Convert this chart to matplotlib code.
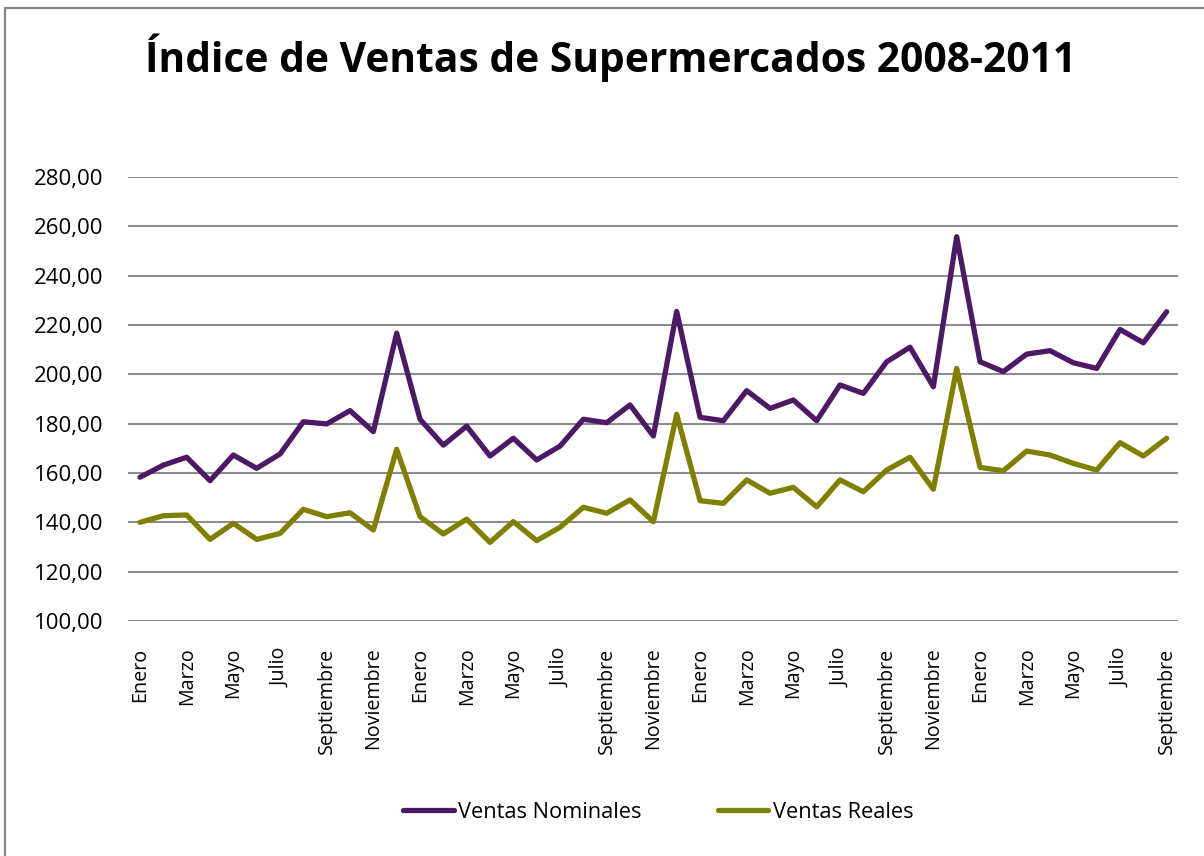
import matplotlib.pyplot as plt
from matplotlib.patches import Rectangle

plt.rcParams['font.family'] = ['Open Sans', 'DejaVu Sans']

meses = ["Enero", "Febrero", "Marzo", "Abril", "Mayo", "Junio", "Julio",
         "Agosto", "Septiembre", "Octubre", "Noviembre", "Diciembre"]
# enero 2008 .. septiembre 2011
etiquetas = (meses * 4)[:45]

nominales = [158.3, 163.2, 166.4, 156.9, 167.3, 161.9, 167.7, 180.8, 179.9, 185.3, 176.8, 216.7,
             181.8, 171.3, 179.0, 166.9, 174.1, 165.3, 170.9, 181.8, 180.4, 187.6, 175.0, 225.5,
             182.6, 181.2, 193.4, 186.2, 189.6, 181.2, 195.7, 192.3, 205.1, 211.0, 195.0, 255.8,
             205.1, 201.1, 208.2, 209.6, 204.7, 202.4, 218.2, 212.8, 225.4]
reales = [140.0, 142.7, 143.0, 133.1, 139.6, 133.1, 135.5, 145.3, 142.3, 143.9, 136.9, 169.6,
          142.3, 135.3, 141.3, 131.9, 140.3, 132.6, 138.0, 146.1, 143.7, 149.1, 140.3, 183.8,
          148.8, 147.7, 157.2, 151.8, 154.2, 146.3, 157.2, 152.4, 161.2, 166.4, 153.4, 202.4,
          162.3, 160.9, 168.9, 167.3, 163.9, 161.2, 172.3, 166.9, 174.1]

fig = plt.figure(figsize=(12.04, 8.56), dpi=100)
ax = fig.add_axes([0.1066, 0.2745, 0.8721, 0.5187])

x = list(range(len(etiquetas)))
ax.plot(x, nominales, color="#4e1964", lw=3.8, solid_joinstyle="round",
        solid_capstyle="round", label="Ventas Nominales", zorder=3)
ax.plot(x, reales, color="#7f7f00", lw=3.8, solid_joinstyle="round",
        solid_capstyle="round", label="Ventas Reales", zorder=3)

ax.set_xlim(-0.5, len(etiquetas) - 0.5)
ax.set_ylim(100, 280)
ax.set_yticks(range(100, 281, 20))
ax.set_yticklabels([("%.2f" % v).replace(".", ",") for v in range(100, 281, 20)])
ax.yaxis.grid(True, color="#8c8c8c", lw=1.5)
ax.set_axisbelow(True)

ax.set_xticks(x[::2])
ax.set_xticklabels(etiquetas[::2], rotation=90, va="top")
ax.tick_params(axis="both", length=0, colors="black")
ax.tick_params(axis="y", pad=18, labelsize=16)
ax.tick_params(axis="x", pad=19, labelsize=14.2)
for s in ax.spines.values():
    s.set_visible(False)

fig.text(0.507, 0.932, "Índice de Ventas de Supermercados 2008-2011",
         ha="center", va="center", fontsize=29.3, fontweight="bold")

fig.legend(loc="center", bbox_to_anchor=(0.547, 0.0514), ncol=2, frameon=False,
           fontsize=15.7, handlelength=2.3, handletextpad=0.22, columnspacing=3.5)

# borde del grafico
fig.patches.append(Rectangle((5 / 1204, -0.1), 1.2, 1.1 - 8 / 856, transform=fig.transFigure,
                             fill=False, edgecolor="#868686", lw=1.6))

fig.savefig("out.png", dpi=100)
